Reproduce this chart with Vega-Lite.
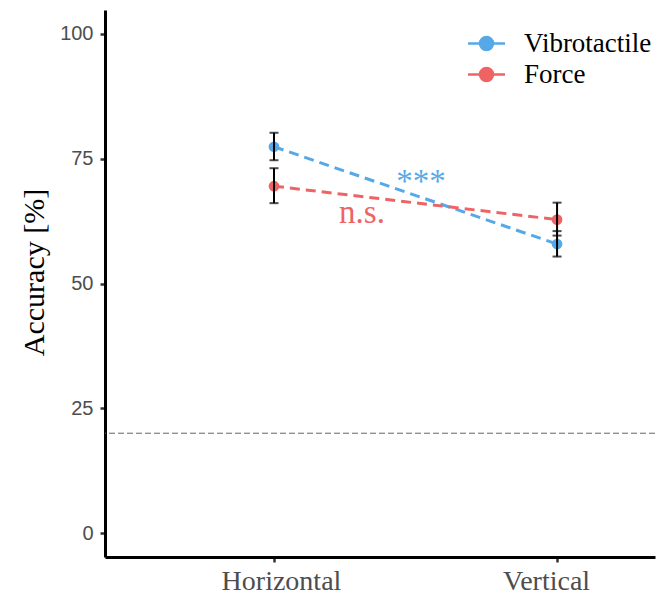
{
  "$schema": "https://vega.github.io/schema/vega-lite/v6.json",
  "autosize": "none",
  "width": 550,
  "height": 547,
  "padding": {"left": 105, "top": 10, "right": 11, "bottom": 37},
  "config": {"view": {"stroke": null}, "axis": {"grid": false}},
  "datasets": {
    "main": [
      {"condition": "Horizontal", "x": 1, "feedback": "Vibrotactile", "acc": 77.4, "lo": 74.7, "hi": 80.2},
      {"condition": "Vertical", "x": 2, "feedback": "Vibrotactile", "acc": 57.9, "lo": 55.4, "hi": 60.5},
      {"condition": "Horizontal", "x": 1, "feedback": "Force", "acc": 69.5, "lo": 66.1, "hi": 73.1},
      {"condition": "Vertical", "x": 2, "feedback": "Force", "acc": 62.8, "lo": 59.6, "hi": 66.2}
    ],
    "notes": [
      {"label": "***", "x": 1.519, "y": 68.4, "feedback": "Vibrotactile"},
      {"label": "n.s.", "x": 1.311, "y": 62.1, "feedback": "Force"}
    ],
    "chance": [{"level": 20}]
  },
  "encoding": {
    "x": {
      "field": "x", "type": "quantitative",
      "scale": {"domain": [0.403, 2.346], "nice": false, "zero": false},
      "axis": {
        "values": [1, 2],
        "labelExpr": "datum.value == 1 ? 'Horizontal' : 'Vertical'",
        "labelFont": "Liberation Serif", "labelFontSize": 28, "labelColor": "#4d4d4d",
        "labelPadding": 5, "tickSize": 5, "tickWidth": 2.5, "tickColor": "#333333",
        "domainColor": "#000000", "domainWidth": 3, "title": null, "labelFlush": false,
        "labelOffset": {"expr": "datum.value == 1 ? 7 : -11"}
      }
    },
    "y": {
      "field": "acc", "type": "quantitative",
      "scale": {"domain": [-4.8, 104.8], "nice": false, "zero": false},
      "axis": {
        "values": [0, 25, 50, 75, 100],
        "labelFont": "Liberation Sans", "labelFontSize": 20, "labelColor": "#4d4d4d",
        "labelPadding": 7, "tickSize": 5, "tickWidth": 2.5, "tickColor": "#333333",
        "domainColor": "#000000", "domainWidth": 3,
        "title": "Accuracy [%]", "titleFont": "Liberation Serif", "titleFontSize": 30,
        "titleFontWeight": "normal", "titleColor": "#000000",
        "titleX": -62, "titleY": 262, "titleAngle": -90, "titleAlign": "center", "titleBaseline": "alphabetic"
      }
    }
  },
  "layer": [
    {
      "data": {"name": "chance"},
      "mark": {"type": "rule", "color": "#666666", "strokeWidth": 1, "strokeDash": [6, 3]},
      "encoding": {"y": {"field": "level", "type": "quantitative"}, "x": null}
    },
    {
      "data": {"name": "main"},
      "mark": {"type": "line", "strokeWidth": 3, "strokeDash": [10, 6]},
      "encoding": {
        "detail": {"field": "feedback"},
        "color": {
          "field": "feedback", "type": "nominal",
          "scale": {"domain": ["Vibrotactile", "Force"], "range": ["#56A9E8", "#EE6464"]},
          "legend": {
            "title": null, "orient": "none", "legendX": 368, "legendY": 20,
            "symbolType": "M-1.85,0L1.85,0M-0.65,0A0.65,0.65,0,1,1,0.65,0A0.65,0.65,0,1,1,-0.65,0Z",
            "symbolSize": 400, "symbolStrokeWidth": 2.5,
            "labelFont": "Liberation Serif", "labelFontSize": 27, "labelColor": "#000000",
            "labelOffset": 24, "rowPadding": 3,
            "encode": {"symbols": {"update": {
              "stroke": {"scale": "color", "field": "value"},
              "fill": {"scale": "color", "field": "value"},
              "fillOpacity": {"value": 1}, "opacity": {"value": 1}
            }}}
          }
        }
      }
    },
    {
      "data": {"name": "main"},
      "mark": {"type": "point", "filled": true, "size": 115, "opacity": 1},
      "encoding": {"color": {"field": "feedback", "type": "nominal"}}
    },
    {
      "data": {"name": "main"},
      "mark": {"type": "rule", "color": "#000000", "strokeWidth": 2},
      "encoding": {"y": {"field": "lo", "type": "quantitative"}, "y2": {"field": "hi"}}
    },
    {
      "data": {"name": "main"},
      "mark": {"type": "tick", "orient": "horizontal", "color": "#000000", "size": 9, "thickness": 2},
      "encoding": {"y": {"field": "lo", "type": "quantitative"}}
    },
    {
      "data": {"name": "main"},
      "mark": {"type": "tick", "orient": "horizontal", "color": "#000000", "size": 9, "thickness": 2},
      "encoding": {"y": {"field": "hi", "type": "quantitative"}}
    },
    {
      "data": {"name": "notes"},
      "mark": {"type": "text", "font": "Liberation Serif", "fontSize": 33, "align": "center", "baseline": "alphabetic"},
      "encoding": {
        "y": {"field": "y", "type": "quantitative"},
        "text": {"field": "label"},
        "color": {"field": "feedback", "type": "nominal"}
      }
    }
  ]
}
